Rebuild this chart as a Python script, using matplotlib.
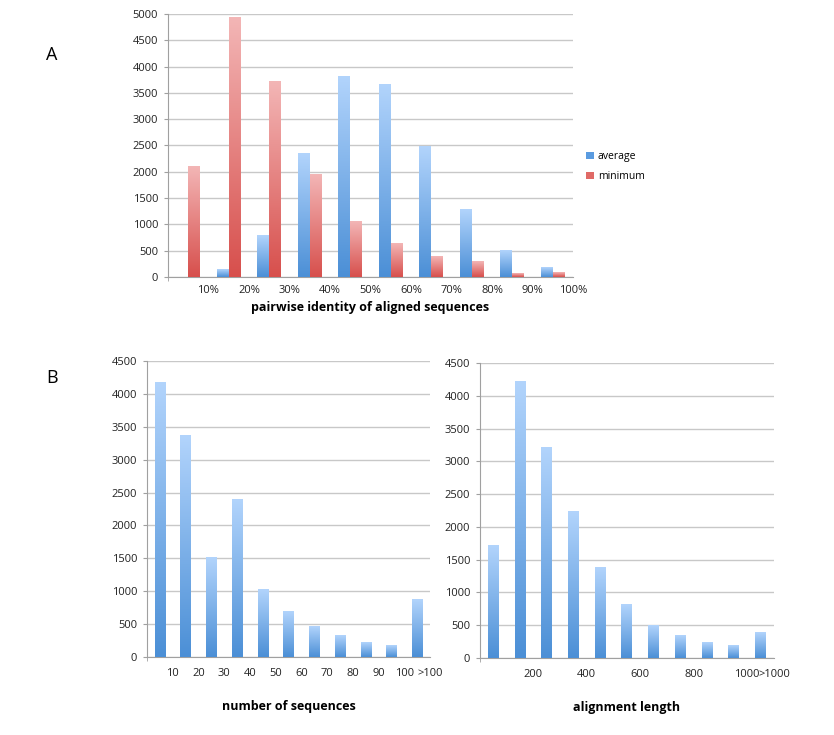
import matplotlib
matplotlib.use('Agg')
import numpy as np
import matplotlib.pyplot as plt
from matplotlib.colors import LinearSegmentedColormap
from matplotlib.patches import Patch

plt.rcParams['font.family'] = ['Open Sans', 'DejaVu Sans']

# panel A data
identity_labels = ['10%', '20%', '30%', '40%', '50%', '60%', '70%', '80%', '90%', '100%']
average = [0, 150, 780, 2350, 3820, 3650, 2480, 1290, 510, 190]
minimum = [2100, 4930, 3710, 1950, 1060, 640, 390, 290, 60, 80]

# panel B data
nseq_labels = ['10', '20', '30', '40', '50', '60', '70', '80', '90', '100', '>100']
nseq_counts = [4170, 3370, 1515, 2390, 1030, 685, 465, 325, 222, 178, 878]

alen_labels = ['', '200', '', '400', '', '600', '', '800', '', '1000', '>1000']
alen_counts = [1710, 4220, 3215, 2230, 1380, 812, 502, 340, 233, 187, 390]

blue_cmap = LinearSegmentedColormap.from_list('blue', ['#4b8fd6', '#b2d4fc'])
red_cmap = LinearSegmentedColormap.from_list('red', ['#d74f4c', '#f3b6b6'])
grad = np.linspace(0, 1, 256).reshape(-1, 1)

GRID = '#c8c8c8'
AXC = '#a0a0a0'
TICK_FS = 8
LABEL_FS = 9


def gradient_bars(ax, bars, cmap):
    for b in bars:
        h = b.get_height()
        if h <= 0:
            continue
        x0 = b.get_x()
        ax.imshow(grad, extent=[x0, x0 + b.get_width(), 0, h], origin='lower',
                  cmap=cmap, aspect='auto', zorder=3, interpolation='bilinear')


def style(ax, n, ymax, step, labels):
    ax.set_xlim(0, n)
    ax.set_ylim(0, ymax)
    ax.set_yticks(np.arange(0, ymax + 1, step))
    ax.yaxis.grid(True, color=GRID, lw=1)
    ax.set_axisbelow(True)
    for s in ['top', 'right']:
        ax.spines[s].set_visible(False)
    for s in ['left', 'bottom']:
        ax.spines[s].set_color(AXC)
        ax.spines[s].set_linewidth(0.8)
    ax.set_xticks(np.arange(0, n + 1), minor=True)
    ax.set_xticks(np.arange(1, n + 1))
    ax.set_xticklabels(labels)
    ax.tick_params(axis='x', which='major', length=0, pad=8, labelsize=TICK_FS, colors='#222222')
    ax.tick_params(axis='x', which='minor', length=3, color=AXC, direction='out')
    ax.tick_params(axis='y', length=3, color=AXC, labelsize=TICK_FS, colors='#222222', pad=4)


fig = plt.figure(figsize=(8.34, 7.35), dpi=100)

# panel A
axA = fig.add_axes([0.2014, 0.6231, 0.4856, 0.3579])
x = np.arange(len(average)) + 0.5
w = 0.29
bA = axA.bar(x - w / 2, average, w, color='none')
bM = axA.bar(x + w / 2, minimum, w, color='none')
gradient_bars(axA, bA, blue_cmap)
gradient_bars(axA, bM, red_cmap)
style(axA, len(average), 5000, 500, identity_labels)
axA.tick_params(axis='x', which='major', pad=6)
axA.set_xlabel('pairwise identity of aligned sequences', fontsize=LABEL_FS, fontweight='bold', labelpad=3)
handles = [Patch(facecolor='#5a9be0', edgecolor='none'), Patch(facecolor='#e06a66', edgecolor='none')]
axA.legend(handles, ['average', 'minimum'], loc='center left', bbox_to_anchor=(1.01, 0.42),
           frameon=False, fontsize=7.5, handlelength=0.7, handleheight=0.7,
           handletextpad=0.4, labelspacing=0.9)

# panel B left
axB1 = fig.add_axes([0.1763, 0.1061, 0.3393, 0.4027])
xb = np.arange(len(nseq_counts)) + 0.5
b1 = axB1.bar(xb, nseq_counts, 0.4, color='none')
gradient_bars(axB1, b1, blue_cmap)
style(axB1, len(nseq_counts), 4500, 500, nseq_labels)
axB1.set_xlabel('number of sequences', fontsize=LABEL_FS, fontweight='bold', labelpad=15)

# panel B right
axB2 = fig.add_axes([0.5755, 0.1048, 0.3525, 0.4012])
b2 = axB2.bar(xb, alen_counts, 0.41, color='none')
gradient_bars(axB2, b2, blue_cmap)
style(axB2, len(alen_counts), 4500, 500, alen_labels)
axB2.set_xlabel('alignment length', fontsize=LABEL_FS, fontweight='bold', labelpad=15)

fig.text(0.062, 0.925, 'A', fontsize=13, ha='center', va='center')
fig.text(0.062, 0.486, 'B', fontsize=13, ha='center', va='center')

fig.savefig('out.png', dpi=100)
